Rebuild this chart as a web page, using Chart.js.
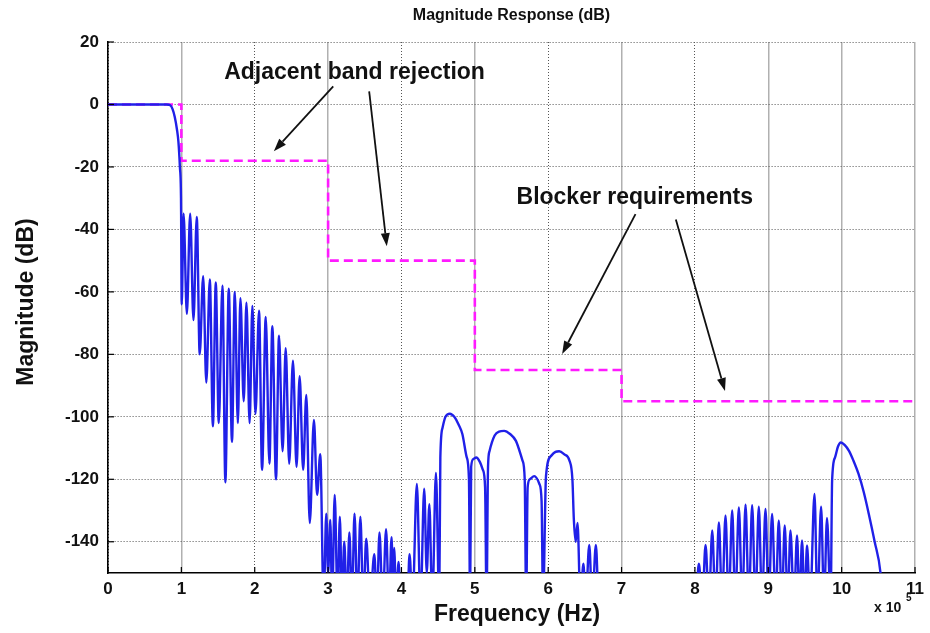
<!DOCTYPE html>
<html><head><meta charset="utf-8">
<script src="https://cdn.jsdelivr.net/npm/chart.js@4.4.1/dist/chart.umd.min.js"></script>
<style>html,body{margin:0;background:#fff}</style>
</head><body>
<canvas id="c" width="930" height="633"></canvas>
<script>
/* Magnitude response of a channel filter vs. blocker mask */
const xTicks=[0,1,2,3,4,5,6,7,8,9,10,11];
const yTicks=[-140,-120,-100,-80,-60,-40,-20,0,20];
const solidX=[1,3,5,7,9,10,11];

// mask (dB) held from each edge to the next
const maskX=[0,1,3,5,7,11];
const maskDb=[0,-18,-50,-85,-95,-95];

// filter response, freq in 1e5 Hz (-160 = below axis)
const respX=[0,0.5,0.8,0.85,0.88,0.91,0.94,0.96,0.98,0.995,1.005,
  1.03,1.075,1.12,1.165,1.21,1.25,
  1.297,1.34,1.388,1.43,1.469,1.51,1.56,1.6,1.646,1.69,1.728,1.77,1.805,1.85,1.887,1.93,1.968,2.01,
  2.059,2.1,2.15,2.2,2.24,2.29,2.331,2.38,2.422,2.47,2.521,2.57,2.612,2.66,2.703,2.75,2.807,2.85,2.893,2.94,
  2.975,3.0,3.03,3.055,3.09,3.13,3.16,3.19,3.22,3.255,3.29,3.325,3.36,3.4,3.44,3.48,3.52,3.57,3.63,3.665,
  3.7,3.745,3.79,3.83,3.865,3.885,3.9,3.93,3.96,3.99,4.08,4.11,4.15,4.21,4.26,4.31,4.345,4.38,4.42,4.47,4.515,
  4.53,4.56,4.6,4.66,4.72,4.78,4.83,4.89,4.92,4.935,4.95,4.98,5.02,5.07,5.11,5.14,5.16,
  5.18,5.2,5.27,5.33,5.4,5.48,5.56,5.65,5.68,5.7,5.72,5.75,5.81,5.88,5.91,5.93,
  5.97,6.04,6.1,6.15,6.22,6.29,6.33,6.35,6.375,6.4,6.44,6.48,6.51,6.56,6.6,6.65,6.69,
  8.01,8.054,8.1,8.145,8.19,8.236,8.28,8.327,8.37,8.417,8.46,8.508,8.55,8.599,8.645,8.69,8.735,8.78,8.825,
  8.871,8.915,8.962,9.005,9.052,9.1,9.143,9.185,9.224,9.265,9.302,9.35,9.392,9.425,9.46,9.495,9.528,9.57,
  9.63,9.67,9.72,9.76,9.8,9.85,
  9.87,9.91,9.95,9.99,10.04,10.1,10.16,10.23,10.3,10.37,10.45,10.53,10.56];
const respDb=[0,0,0,-0.3,-1.5,-4,-8,-12,-20,-30,-64,
  -35,-67,-35,-69,-36,-80,
  -55,-89,-56,-103,-57,-102,-58,-121,-59,-108,-60,-102,-62,-95,-63.5,-102,-64.5,-99,
  -66,-117,-68,-115,-71,-120,-74,-111,-78,-115,-82,-116,-87,-117,-93,-134,-101,-125,-112,-160,
  -131,-150,-133,-160,-125,-160,-132,-160,-140,-160,-137,-160,-131,-160,-132,-160,-139,-160,-144,-160,
  -137,-160,-136,-160,-138.5,-155,-142,-160,-146.5,-160,-160,-144,-160,-121.5,-160,-123,-150,-128,-160,-118,-160,
  -113,-103.5,-100,-99,-100,-102.5,-105.5,-113,-120,-160,-116,-113.5,-113,-114.5,-117,-122.6,-160,
  -116,-111,-106,-104.7,-104.5,-105.5,-107.7,-114,-120,-160,-122.6,-120,-119,-121.5,-127,-160,
  -119,-112.5,-111.2,-111,-112,-114,-120,-133,-140,-134,-160,-147,-160,-141,-160,-141,-160,
  -160,-147,-160,-141,-160,-136.4,-160,-133.8,-160,-131.6,-160,-130,-160,-129,-160,-128.1,-160,-128.3,-160,
  -128.8,-160,-129.5,-160,-131.1,-160,-133.2,-160,-134.8,-160,-136.4,-160,-138,-160,-139.6,-160,-141.2,-160,
  -124.7,-160,-128.8,-160,-132.4,-160,
  -120.4,-113,-109.5,-108.2,-109,-110.9,-114,-118.3,-124,-131.1,-140,-150,-160];

// annotations, in data units
const noteText=['Adjacent band rejection','Blocker requirements'];
const noteX=[3.36,7.18];
const noteY=[10.2,-29.7];
const arrowFromX=[3.07,3.56,7.19,7.74];
const arrowFromY=[5.8,4.2,-35.1,-36.8];
const arrowToX=[2.26,3.8,6.19,8.41];
const arrowToY=[-15,-45.4,-79.9,-91.7];

const FONT='"Liberation Sans", Arial, sans-serif';
const INK='#111';

const decor={
  id:'decor',
  afterDatasetsDraw(ch){
    const c=ch.ctx, a=ch.chartArea, xs=ch.scales.x, ys=ch.scales.y;
    c.save();
    // inward ticks
    c.strokeStyle='#000'; c.lineWidth=1.2;
    xTicks.forEach(v=>{const p=xs.getPixelForValue(v);c.beginPath();c.moveTo(p,a.bottom);c.lineTo(p,a.bottom-6);c.stroke();});
    yTicks.forEach(v=>{const p=ys.getPixelForValue(v);c.beginPath();c.moveTo(a.left,p);c.lineTo(a.left+6,p);c.stroke();});
    // arrows
    c.strokeStyle=INK; c.fillStyle=INK; c.lineWidth=1.8;
    for(let i=0;i<arrowFromX.length;i++){
      const x0=xs.getPixelForValue(arrowFromX[i]), y0=ys.getPixelForValue(arrowFromY[i]);
      const x1=xs.getPixelForValue(arrowToX[i]), y1=ys.getPixelForValue(arrowToY[i]);
      const ang=Math.atan2(y1-y0,x1-x0), L=13, W=4.5;
      const bx=x1-L*Math.cos(ang), by=y1-L*Math.sin(ang);
      c.beginPath(); c.moveTo(x0,y0); c.lineTo(bx,by); c.stroke();
      c.beginPath(); c.moveTo(x1,y1);
      c.lineTo(bx+W*Math.sin(ang),by-W*Math.cos(ang));
      c.lineTo(bx-W*Math.sin(ang),by+W*Math.cos(ang));
      c.closePath(); c.fill();
    }
    // notes
    c.font='bold 23px '+FONT; c.textAlign='center'; c.textBaseline='middle';
    noteText.forEach((t,i)=>c.fillText(t,xs.getPixelForValue(noteX[i]),ys.getPixelForValue(noteY[i])));
    // titles
    c.font='bold 16px '+FONT;
    c.fillText('Magnitude Response (dB)',(a.left+a.right)/2,16);
    c.font='bold 23px '+FONT;
    c.fillText('Frequency (Hz)',517,615);
    c.save(); c.translate(27,302); c.rotate(-Math.PI/2);
    c.fillText('Magnitude (dB)',0,0); c.restore();
    c.textAlign='left'; c.textBaseline='alphabetic';
    c.font='bold 14px '+FONT; c.fillText('x 10',874,612);
    c.font='bold 10px '+FONT; c.fillText('5',906,601);
    c.restore();
  }
};

new Chart(document.getElementById('c'),{
  type:'line',
  data:{datasets:[
    {label:'Response',data:respX.map((x,i)=>({x,y:respDb[i]})),borderColor:'#2020e8',borderWidth:2.4,pointRadius:0,cubicInterpolationMode:'monotone',order:1},
    {label:'Mask',data:maskX.map((x,i)=>({x,y:maskDb[i]})),stepped:'before',borderColor:'#ff1aff',borderWidth:2.6,borderDash:[9,5],pointRadius:0,order:2}
  ]},
  options:{
    responsive:false,animation:false,
    layout:{padding:{top:42,right:13,left:0,bottom:0}},
    plugins:{legend:{display:false},tooltip:{enabled:false}},
    scales:{
      x:{type:'linear',min:0,max:11,
        afterFit:s=>{s.height=60;},
        afterBuildTicks:s=>{s.ticks=xTicks.map(v=>({value:v}));},
        grid:{drawTicks:false,
          color:ctx=>ctx.tick&&solidX.includes(ctx.tick.value)?'#b0b0b0':'#555',
          lineWidth:ctx=>ctx.tick&&solidX.includes(ctx.tick.value)?1.5:1},
        border:{color:'#000',width:1.6,
          dash:ctx=>ctx.tick&&solidX.includes(ctx.tick.value)?[]:[1,2]},
        ticks:{padding:6,color:INK,font:{family:FONT,size:17,weight:'bold'},maxRotation:0}},
      y:{min:-150,max:20,
        afterFit:s=>{s.width=108;},
        afterBuildTicks:s=>{s.ticks=yTicks.map(v=>({value:v}));},
        grid:{drawTicks:false,color:'#555',lineWidth:1},
        border:{color:'#000',width:1.6,dash:[1,2]},
        ticks:{padding:9,color:INK,font:{family:FONT,size:17,weight:'bold'}}}
    }
  },
  plugins:[decor]
});
</script>
</body></html>
